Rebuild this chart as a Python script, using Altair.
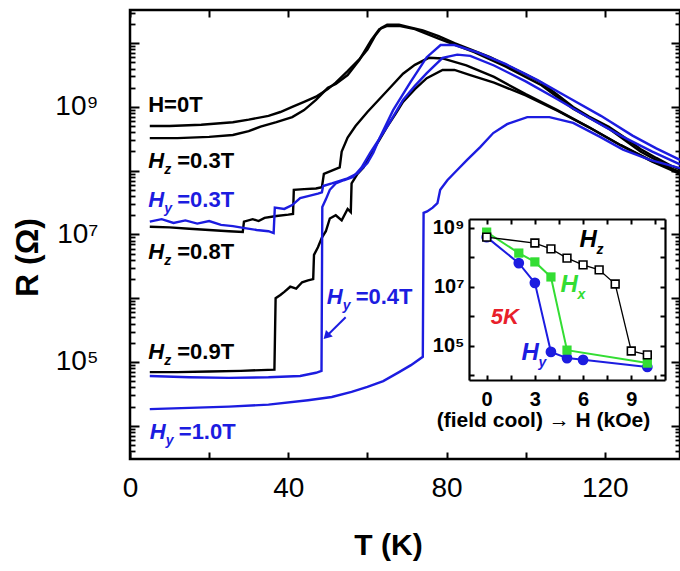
import altair as alt
import pandas as pd

FONT = "Liberation Sans"
BLACK = "#000000"
BLUE = "#1c1ce0"
GREEN = "#33dd33"
RED = "#e8202a"

# ---------------- main panel: R(T), T in K, log10(R / Ohm) ----------------
h0_T = [5, 10, 18, 26, 30, 35, 38, 41, 44, 47, 50, 52, 55, 58, 60, 62, 63.5, 65, 68, 70,
        74, 78, 82, 87, 91, 95, 100, 104, 108, 112, 116, 121, 125, 129, 133, 137, 139]
h0_log = [8.70, 8.70, 8.72, 8.76, 8.80, 8.86, 8.92, 9.00, 9.08, 9.16, 9.28, 9.38, 9.56, 9.75, 9.90, 10.12, 10.24, 10.29, 10.29, 10.26,
          10.20, 10.11, 10.00, 9.88, 9.78, 9.66, 9.51, 9.38, 9.19, 9.00, 8.85, 8.69, 8.52, 8.34, 8.20, 8.07, 8.02]

hz03_T = [5, 12, 20, 26, 30, 33, 37, 41, 44, 47, 50, 52, 55, 58, 61, 63, 65, 68, 72, 78, 87, 95, 104, 112, 121, 129, 137, 139]
hz03_log = [8.51, 8.51, 8.53, 8.56, 8.62, 8.69, 8.76, 8.84, 8.95, 9.11, 9.30, 9.36, 9.50, 9.74, 10.05, 10.22, 10.27, 10.27, 10.22, 10.07, 9.86, 9.63, 9.34, 8.97, 8.66, 8.30, 8.03, 7.98]

hz08_T = [5, 10, 15, 20, 25, 28.5, 28.8, 31, 32.5, 34, 37, 40, 41.2, 41.4, 44, 47, 48.5, 49, 51, 53, 53.5, 55, 57, 60, 63, 66, 69, 72, 75.5, 79, 85, 92, 100, 108, 116, 124, 132, 139]
hz08_log = [7.12, 7.11, 7.09, 7.07, 7.05, 7.04, 7.20, 7.24, 7.21, 7.26, 7.29, 7.31, 7.32, 7.70, 7.71, 7.72, 7.74, 7.95, 8.00, 8.05, 8.30, 8.52, 8.70, 8.92, 9.12, 9.32, 9.52, 9.66, 9.77, 9.76, 9.65, 9.47, 9.20, 8.95, 8.68, 8.40, 8.15, 7.97]

hz09_T = [5, 12, 20, 28, 36.5, 36.8, 38, 39, 40.5, 42, 43.5, 45, 46.3, 46.5, 47.5, 48.5, 49.5, 50.5, 52, 53.5, 55, 55.8, 56, 57.5,
          59, 61, 63, 65, 67, 69, 72, 75, 79, 82, 86, 92, 100, 108, 116, 124, 132, 139]
hz09_log = [4.84, 4.84, 4.85, 4.86, 4.88, 6.00, 6.05, 6.10, 6.18, 6.15, 6.25, 6.28, 6.30, 6.68, 6.80, 6.95, 7.05, 7.25, 7.30, 7.22, 7.40, 7.35, 7.80, 7.95,
            8.05, 8.28, 8.48, 8.69, 8.88, 9.08, 9.28, 9.45, 9.58, 9.58, 9.50, 9.38, 9.18, 8.94, 8.68, 8.40, 8.14, 7.95]

hy03_T = [5, 8, 11, 14, 17, 20, 23, 26, 29, 32, 35, 36.3, 36.6, 39, 41, 43, 45, 47.5, 48.5, 48.8, 51, 53, 55, 57.5, 60, 61.5, 63,
          66.5, 70.8, 75, 78.5, 82, 88, 95, 103, 111, 119, 127, 133, 139]
hy03_log = [7.20, 7.24, 7.18, 7.22, 7.17, 7.21, 7.15, 7.13, 7.10, 7.07, 7.05, 7.02, 7.42, 7.40, 7.46, 7.57, 7.60, 7.64, 7.66, 7.76, 7.80, 7.84, 7.88, 7.96, 8.12, 8.28, 8.50,
            8.95, 9.38, 9.78, 9.97, 9.97, 9.85, 9.67, 9.42, 9.14, 8.86, 8.55, 8.35, 8.17]

hy04_T = [5, 15, 25, 35, 43, 47, 48.4, 48.6, 49.5, 50.5, 52, 54, 56.4, 58.5, 60.7, 63, 65, 67, 69, 72, 75, 79, 82.7, 86, 92, 100, 108, 116, 124, 132, 139]
hy04_log = [4.78, 4.76, 4.75, 4.76, 4.78, 4.83, 4.86, 7.43, 7.55, 7.70, 7.80, 7.85, 7.90, 8.05, 8.28, 8.50, 8.69, 8.90, 9.11, 9.33, 9.53, 9.77, 9.82, 9.80, 9.65, 9.40, 9.12, 8.83, 8.55, 8.30, 8.10]

hy10_T = [5, 15, 25, 35, 45, 51, 56, 60, 64, 68, 71, 74, 74.2, 75.1, 76.5, 77.7, 78.4, 80.2, 82.7, 85.2, 88.5, 91.8, 95.3, 100.4, 106, 112, 118.8, 124.6, 131.4, 139]
hy10_log = [4.26, 4.28, 4.30, 4.33, 4.40, 4.45, 4.53, 4.61, 4.70, 4.84, 4.95, 5.08, 7.34, 7.36, 7.42, 7.49, 7.70, 7.85, 8.01, 8.17, 8.37, 8.59, 8.73, 8.84, 8.84, 8.75, 8.53, 8.33, 8.17, 8.04]

# ---------------- inset: R at 5K vs cooling field (kOe) ----------------
ins_hz_H = [0, 3, 4, 5, 6, 7, 8, 9, 10]
ins_hz_log = [8.69, 8.49, 8.29, 7.98, 7.75, 7.58, 7.10, 4.83, 4.70]
ins_hx_H = [0, 2, 3, 4, 5, 10]
ins_hx_log = [8.86, 8.15, 7.85, 7.34, 4.86, 4.42]
ins_hy_H = [0, 2, 3, 4, 5, 6, 10]
ins_hy_log = [8.69, 7.81, 7.14, 4.80, 4.59, 4.53, 4.29]

# ---------------- text labels ----------------
lab_T = [4.6, 4.6, 4.6, 4.6, 5.0, 49.7]
lab_log = [8.15, 7.54, 6.73, 5.16, 3.90, 6.02]
lab_color = [BLACK, BLUE, BLACK, BLACK, BLUE, BLUE]
lab_sub = ["z", "y", "z", "z", "y", "y"]
lab_rest = ["=0.3T", "=0.3T", "=0.8T", "=0.9T", "=1.0T", "=0.4T"]

ins_lab_H = [5.78, 4.60, 2.17]
ins_lab_log = [8.59, 7.07, 4.76]
ins_lab_color = [BLACK, GREEN, BLUE]
ins_lab_sub = ["z", "x", "y"]

arrow_T = [54.5, 49.9]
arrow_log = [5.70, 5.42]


def curve(name, T, logR, color):
    assert len(T) == len(logR), name
    return pd.DataFrame({"series": name, "T": T, "R": [10 ** v for v in logR],
                         "color": color, "i": list(range(len(T)))})


main_df = pd.concat([
    curve("H=0T", h0_T, h0_log, BLACK),
    curve("Hz=0.3T", hz03_T, hz03_log, BLACK),
    curve("Hz=0.8T", hz08_T, hz08_log, BLACK),
    curve("Hz=0.9T", hz09_T, hz09_log, BLACK),
    curve("Hy=0.3T", hy03_T, hy03_log, BLUE),
    curve("Hy=0.4T", hy04_T, hy04_log, BLUE),
    curve("Hy=1.0T", hy10_T, hy10_log, BLUE),
], ignore_index=True)


def icurve(name, H, logR, color):
    return pd.DataFrame({"series": name, "H": H, "R": [10 ** v for v in logR], "color": color,
                         "i": list(range(len(H)))})


ins_hz = icurve("Hz", ins_hz_H, ins_hz_log, BLACK)
ins_hx = icurve("Hx", ins_hx_H, ins_hx_log, GREEN)
ins_hy = icurve("Hy", ins_hy_H, ins_hy_log, BLUE)

# ---------------- scales ----------------
W, H = 550, 449
x_main = alt.Scale(domain=[0, 139], nice=False, zero=False)
y_main = alt.Scale(type="log", domain=[10 ** 3.478, 10 ** 10.52], nice=False)
x_ins = alt.Scale(domain=[-1.1, 11.1], range=[339, 535], nice=False, zero=False)
y_ins = alt.Scale(type="log", domain=[10 ** 3.847, 10 ** 9.305], range=[370, 209], nice=False)

majors = [10.0 ** k for k in range(4, 11)]
minors = [m * 10.0 ** k for k in range(3, 11) for m in range(2, 10)
          if 10 ** 3.478 < m * 10.0 ** k < 10 ** 10.52]
sup_expr = ("round(log(datum.value)/LN10) == 5 ? '10\u2075' : "
            "round(log(datum.value)/LN10) == 7 ? '10\u2077' : "
            "round(log(datum.value)/LN10) == 9 ? '10\u2079' : ''")


def ax(**kw):
    base = dict(grid=False, tickColor="black", tickWidth=2, domainColor="black", domainWidth=2.2,
                labelColor="black", titleColor="black", labelFont=FONT, titleFont=FONT,
                labelOverlap=False, labelFlush=False)
    base.update(kw)
    return alt.Axis(**base)


# main lines with bottom (labels) and left (labels) axes
main_lines = alt.Chart(main_df).mark_line(strokeWidth=2.4, clip=True).encode(
    x=alt.X("T:Q", scale=x_main, axis=ax(
        orient="bottom", values=[0, 20, 40, 60, 80, 100, 120],
        labelExpr="datum.value % 40 == 0 ? datum.label : ''",
        tickSize=7, offset=-7, domain=False, labelFontSize=28, labelPadding=15,
        title="T (K)", titleFontSize=30, titleFontWeight="bold",
        titleX=258, titleY=93, titleBaseline="middle")),
    y=alt.Y("R:Q", scale=y_main, axis=ax(
        orient="left", values=majors, labelExpr=sup_expr,
        tickSize=9, offset=-9, domain=False, labelFontSize=28, labelPadding=32,
        title="R (\u03a9)", titleFontSize=32, titleFontWeight="bold",
        titleX=-112, titleY=247, titleAngle=270, titleBaseline="middle", titleAlign="center")),
    color=alt.Color("color:N", scale=None),
    detail="series:N",
    order="i:Q",
)

carrier = pd.DataFrame({"T": [10], "R": [1e6]})
main_ax2 = alt.Chart(carrier).mark_point(opacity=0).encode(
    x=alt.X("T:Q", scale=x_main, axis=ax(orient="top", values=[0, 20, 40, 60, 80, 100, 120],
                                          tickSize=7, offset=-7, domain=False, labels=False, title=None)),
    y=alt.Y("R:Q", scale=y_main, axis=ax(orient="right", values=majors, tickSize=9, offset=-9,
                                          domain=False, labels=False, title=None)),
)
main_ax3 = alt.Chart(carrier).mark_point(opacity=0).encode(
    x=alt.X("T:Q", scale=x_main, axis=None),
    y=alt.Y("R:Q", scale=y_main, axis=ax(orient="left", values=minors, tickSize=5, offset=-5,
                                          tickWidth=1.8, domain=False, labels=False, title=None)),
)
main_ax4 = alt.Chart(carrier).mark_point(opacity=0).encode(
    x=alt.X("T:Q", scale=x_main, axis=None),
    y=alt.Y("R:Q", scale=y_main, axis=ax(orient="right", values=minors, tickSize=5, offset=-5,
                                          tickWidth=1.8, domain=False, labels=False, title=None)),
)

# main text labels
lab_df = pd.DataFrame({"T": lab_T, "R": [10 ** v for v in lab_log], "color": lab_color,
                       "head": ["H"] * len(lab_T), "sub": lab_sub, "rest": lab_rest})
tbase = alt.Chart(lab_df).encode(
    x=alt.X("T:Q", scale=x_main, axis=None),
    y=alt.Y("R:Q", scale=y_main, axis=None),
    color=alt.Color("color:N", scale=None),
)
t_head = tbase.mark_text(align="left", baseline="middle", font=FONT, fontSize=22,
                         fontWeight="bold", fontStyle="italic").encode(text="head:N")
t_sub = tbase.mark_text(align="left", baseline="middle", font=FONT, fontSize=14, dx=16, dy=9,
                        fontWeight="bold", fontStyle="italic").encode(text="sub:N")
t_rest = tbase.mark_text(align="left", baseline="middle", font=FONT, fontSize=22, dx=29,
                         fontWeight="bold").encode(text="rest:N")
h0_lab = pd.DataFrame({"T": [4.6], "R": [10 ** 9.03], "text": ["H=0T"]})
t_h0 = alt.Chart(h0_lab).mark_text(align="left", baseline="middle", font=FONT, fontSize=22,
                                   fontWeight="bold", color=BLACK).encode(
    x=alt.X("T:Q", scale=x_main, axis=None), y=alt.Y("R:Q", scale=y_main, axis=None), text="text:N")

# arrow for H_y = 0.4T
arrow_df = pd.DataFrame({"T": arrow_T, "R": [10 ** v for v in arrow_log], "i": [0, 1]})
arrow_line = alt.Chart(arrow_df).mark_line(color=BLUE, strokeWidth=2).encode(
    x=alt.X("T:Q", scale=x_main, axis=None), y=alt.Y("R:Q", scale=y_main, axis=None), order="i:Q")
arrow_head = alt.Chart(arrow_df.iloc[[1]]).mark_point(shape="triangle", angle=224, size=90, filled=True,
                                                      color=BLUE, opacity=1).encode(
    x=alt.X("T:Q", scale=x_main, axis=None), y=alt.Y("R:Q", scale=y_main, axis=None))

# ---------------- inset ----------------
ins_hy_line = alt.Chart(ins_hy).mark_line(color=BLUE, strokeWidth=2).encode(
    x=alt.X("H:Q", scale=x_ins, axis=ax(
        orient="bottom", values=[0, 3, 6, 9], offset=-79, domain=True, ticks=False, tickSize=0,
        labelFontSize=20, labelFontWeight="bold", labelPadding=9,
        title="(field cool) \u2192 H (kOe)", titleFontSize=21, titleFontWeight="bold",
        titleX=413, titleY=40, titleBaseline="middle")),
    y=alt.Y("R:Q", scale=y_ins, axis=ax(
        orient="left", values=[1e5, 1e7, 1e9], labelExpr=sup_expr, offset=-339, domain=True,
        ticks=False, tickSize=0, labelFontSize=20, labelFontWeight="bold", labelPadding=5, title=None)),
    order="i:Q",
)
ins_hy_pts = alt.Chart(ins_hy).mark_circle(color=BLUE, size=115, opacity=1).encode(
    x=alt.X("H:Q", scale=x_ins, axis=ax(orient="bottom", values=[0, 1.5, 3, 4.5, 6, 7.5, 9, 10.5],
                                         offset=-84, tickSize=5, domain=False, labels=False, title=None)),
    y=alt.Y("R:Q", scale=y_ins, axis=ax(orient="left", values=[1e4, 1e5, 1e6, 1e7, 1e8, 1e9],
                                         offset=-344, tickSize=5, domain=False, labels=False, title=None)),
)
ins_hx_line = alt.Chart(ins_hx).mark_line(color=GREEN, strokeWidth=2).encode(
    x=alt.X("H:Q", scale=x_ins, axis=ax(orient="top", offset=-209, domain=True, ticks=False,
                                         tickSize=0, labels=False, title=None, values=[0])),
    y=alt.Y("R:Q", scale=y_ins, axis=ax(orient="right", offset=-15, domain=True, ticks=False,
                                         tickSize=0, labels=False, title=None, values=[1e9])),
    order="i:Q",
)
ins_hx_pts = alt.Chart(ins_hx).mark_square(color=GREEN, size=85, opacity=1).encode(
    x=alt.X("H:Q", scale=x_ins, axis=ax(orient="top", values=[0, 1.5, 3, 4.5, 6, 7.5, 9, 10.5],
                                         offset=-214, tickSize=5, domain=False, labels=False, title=None)),
    y=alt.Y("R:Q", scale=y_ins, axis=ax(orient="right", values=[1e4, 1e5, 1e6, 1e7, 1e8, 1e9],
                                         offset=-20, tickSize=5, domain=False, labels=False, title=None)),
)
ins_hz_line = alt.Chart(ins_hz).mark_line(color=BLACK, strokeWidth=1.3).encode(
    x=alt.X("H:Q", scale=x_ins, axis=None), y=alt.Y("R:Q", scale=y_ins, axis=None), order="i:Q")
ins_hz_pts = alt.Chart(ins_hz).mark_point(shape="square", filled=True, fill="white", stroke=BLACK,
                                          strokeWidth=1.6, size=60, opacity=1).encode(
    x=alt.X("H:Q", scale=x_ins, axis=None), y=alt.Y("R:Q", scale=y_ins, axis=None))

ins_lab_df = pd.DataFrame({"H": ins_lab_H, "R": [10 ** v for v in ins_lab_log], "color": ins_lab_color,
                           "head": ["H"] * 3, "sub": ins_lab_sub})
ibase = alt.Chart(ins_lab_df).encode(
    x=alt.X("H:Q", scale=x_ins, axis=None), y=alt.Y("R:Q", scale=y_ins, axis=None),
    color=alt.Color("color:N", scale=None))
i_head = ibase.mark_text(align="left", baseline="middle", font=FONT, fontSize=24,
                         fontWeight="bold", fontStyle="italic").encode(text="head:N")
i_sub = ibase.mark_text(align="left", baseline="middle", font=FONT, fontSize=14, dx=17, dy=10,
                        fontWeight="bold", fontStyle="italic").encode(text="sub:N")
k5_df = pd.DataFrame({"H": [0.25], "R": [10 ** 5.98], "text": ["5K"]})
i_5k = alt.Chart(k5_df).mark_text(align="left", baseline="middle", font=FONT, fontSize=22,
                                  fontWeight="bold", fontStyle="italic", color=RED).encode(
    x=alt.X("H:Q", scale=x_ins, axis=None), y=alt.Y("R:Q", scale=y_ins, axis=None), text="text:N")

chart = alt.layer(
    main_lines, main_ax2, main_ax3, main_ax4,
    t_h0, t_head, t_sub, t_rest, arrow_line, arrow_head,
    ins_hy_line, ins_hy_pts, ins_hx_line, ins_hx_pts, ins_hz_line, ins_hz_pts,
    i_head, i_sub, i_5k,
).resolve_scale(x="independent", y="independent").resolve_axis(
    x="independent", y="independent"
).properties(
    width=W, height=H,
    padding={"left": 130, "top": 10, "right": 0, "bottom": 112},
    autosize=alt.AutoSizeParams(type="none"),
    background="white",
).configure_view(stroke="black", strokeWidth=2.5)

chart.save("out.html", embed_options={"renderer": "svg", "actions": False})
